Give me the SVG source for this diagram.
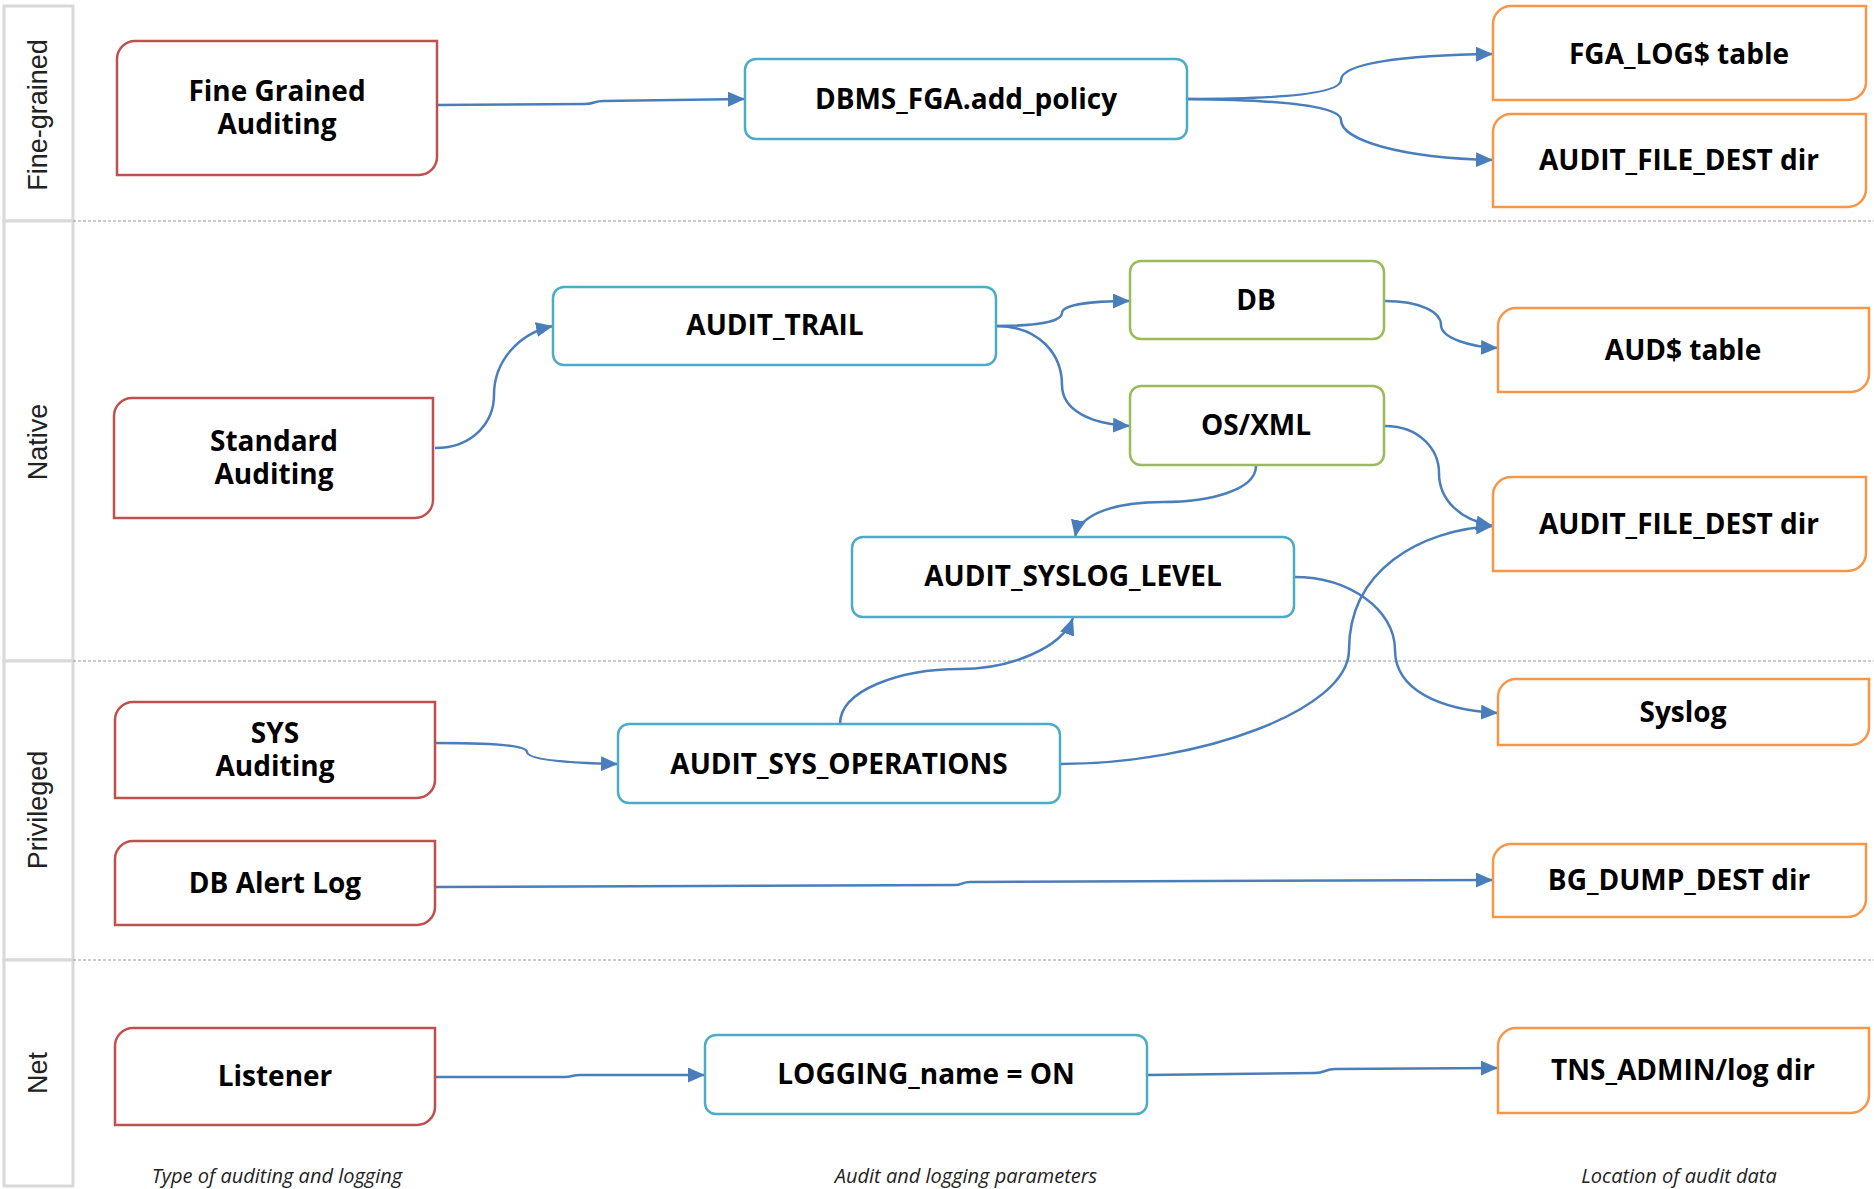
<svg xmlns="http://www.w3.org/2000/svg" width="1874" height="1189" viewBox="0 0 1874 1189">
<style>
.lane{fill:#fff;stroke:#D9D9D9;stroke-width:3}
.sep{stroke:#999;stroke-width:1.2;stroke-dasharray:3 2;fill:none}
.lbl{font-family:"Liberation Sans",Arial,sans-serif;font-size:27px;fill:#222;text-anchor:middle}
.t{font-family:"Open Sans","Liberation Sans",sans-serif;font-weight:700;font-size:28px;fill:#000;text-anchor:middle}
.foot{font-family:"Open Sans","Liberation Sans",sans-serif;font-style:italic;font-size:20px;fill:#222;text-anchor:middle}
.red{fill:#fff;stroke:#C0504D;stroke-width:2.5}
.org{fill:#fff;stroke:#F79646;stroke-width:2.5}
.teal{fill:#fff;stroke:#4BACC6;stroke-width:2.5}
.grn{fill:#fff;stroke:#9BBB59;stroke-width:2.5}
.c{fill:none;stroke:#4A7EBB;stroke-width:2.5;marker-end:url(#ah)}
</style>
<defs>
<marker id="ah" markerUnits="userSpaceOnUse" markerWidth="17" markerHeight="15" refX="17" refY="7.5" orient="auto">
<path d="M0,0 L17,7.5 L0,15 z" fill="#4A7EBB"/>
</marker>
</defs>
<rect width="1874" height="1189" fill="#fff"/>
<g id="lanes">
<rect class="lane" x="4" y="6" width="69" height="215"/>
<rect class="lane" x="4" y="221" width="69" height="440"/>
<rect class="lane" x="4" y="661" width="69" height="299"/>
<rect class="lane" x="4" y="960" width="69" height="226"/>
<line class="sep" x1="73" y1="221" x2="1874" y2="221"/>
<line class="sep" x1="73" y1="661" x2="1874" y2="661"/>
<line class="sep" x1="73" y1="960" x2="1874" y2="960"/>
<text class="lbl" transform="translate(47,115) rotate(-90)">Fine-grained</text>
<text class="lbl" transform="translate(47,442) rotate(-90)">Native</text>
<text class="lbl" transform="translate(47,810) rotate(-90)">Privileged</text>
<text class="lbl" transform="translate(47,1073) rotate(-90)">Net</text>
</g>
<g id="connectors">
<path class="c" d="M437,105 L585,104 C594,104 594,101 603,101 L745,99"/>
<path class="c" d="M1187,99 C1295,99 1341,92 1341,80 C1341,64 1400,55 1493,54"/>
<path class="c" d="M1187,99 C1295,100 1341,108 1341,120 C1341,140 1400,158 1493,160"/>
<path class="c" d="M435,448 C475,448 494,420 494,395 C494,360 520,333 553,326"/>
<path class="c" d="M996,326 C1040,326 1062,321 1062,313 C1062,305 1090,301 1130,301"/>
<path class="c" d="M996,326 C1040,326 1062,355 1062,385 C1062,410 1090,424 1130,426"/>
<path class="c" d="M1385,301 C1420,301 1441,312 1441,325 C1441,338 1470,347 1498,348"/>
<path class="c" d="M1385,426 C1420,426 1439,450 1439,473 C1439,500 1460,520 1493,526"/>
<path class="c" d="M1256,466 C1256,490 1210,502 1163,502 C1120,502 1080,512 1075,537"/>
<path class="c" d="M840,724 C840,690 900,669 960,669 C1010,669 1062,648 1073,618"/>
<path class="c" d="M1060,764 C1200,764 1349,710 1349,650 C1349,570 1420,530 1493,526"/>
<path class="c" d="M1294,577 C1350,577 1395,610 1395,650 C1395,690 1440,710 1498,713"/>
<path class="c" d="M435,743 C490,743 527,745 527,752 C527,760 570,763 618,764"/>
<path class="c" d="M435,887 L955,885 C962,885 962,882 970,882 L1493,880"/>
<path class="c" d="M435,1077 L565,1077 C572,1077 572,1075 580,1075 L705,1075"/>
<path class="c" d="M1147,1075 L1315,1073 C1325,1073 1325,1069 1335,1069 L1498,1068"/>
</g>
<g id="n-fga">
<path class="red" d="M135,41 H437 V157 A18,18 0 0 1 419,175 H117 V59 A18,18 0 0 1 135,41 Z"/>
<text class="t" x="277" y="101">Fine Grained<tspan x="277" dy="33">Auditing</tspan></text>
</g>
<g id="n-dbmsfga">
<rect class="teal" x="745" y="59" width="442" height="80" rx="11"/>
<text class="t" x="966" y="109">DBMS_FGA.add_policy</text>
</g>
<g id="n-fgalog">
<path class="org" d="M1511,6 H1866 V82 A18,18 0 0 1 1848,100 H1493 V24 A18,18 0 0 1 1511,6 Z"/>
<text class="t" x="1679" y="64">FGA_LOG$ table</text>
</g>
<g id="n-afd1">
<path class="org" d="M1511,114 H1866 V189 A18,18 0 0 1 1848,207 H1493 V132 A18,18 0 0 1 1511,114 Z"/>
<text class="t" x="1679" y="170">AUDIT_FILE_DEST dir</text>
</g>
<g id="n-audittrail">
<rect class="teal" x="553" y="287" width="443" height="78" rx="11"/>
<text class="t" x="775" y="335">AUDIT_TRAIL</text>
</g>
<g id="n-db">
<rect class="grn" x="1130" y="261" width="254" height="78" rx="11"/>
<text class="t" x="1256" y="310">DB</text>
</g>
<g id="n-osxml">
<rect class="grn" x="1130" y="386" width="254" height="79" rx="11"/>
<text class="t" x="1256" y="435">OS/XML</text>
</g>
<g id="n-aud">
<path class="org" d="M1516,308 H1869 V374 A18,18 0 0 1 1851,392 H1498 V326 A18,18 0 0 1 1516,308 Z"/>
<text class="t" x="1683" y="360">AUD$ table</text>
</g>
<g id="n-std">
<path class="red" d="M132,398 H433 V500 A18,18 0 0 1 415,518 H114 V416 A18,18 0 0 1 132,398 Z"/>
<text class="t" x="274" y="451">Standard<tspan x="274" dy="33">Auditing</tspan></text>
</g>
<g id="n-afd2">
<path class="org" d="M1511,477 H1866 V553 A18,18 0 0 1 1848,571 H1493 V495 A18,18 0 0 1 1511,477 Z"/>
<text class="t" x="1679" y="534">AUDIT_FILE_DEST dir</text>
</g>
<g id="n-syslvl">
<rect class="teal" x="852" y="537" width="442" height="80" rx="11"/>
<text class="t" x="1073" y="586">AUDIT_SYSLOG_LEVEL</text>
</g>
<g id="n-syslog">
<path class="org" d="M1516,679 H1869 V727 A18,18 0 0 1 1851,745 H1498 V697 A18,18 0 0 1 1516,679 Z"/>
<text class="t" x="1683" y="722">Syslog</text>
</g>
<g id="n-sys">
<path class="red" d="M133,702 H435 V780 A18,18 0 0 1 417,798 H115 V720 A18,18 0 0 1 133,702 Z"/>
<text class="t" x="275" y="743">SYS<tspan x="275" dy="33">Auditing</tspan></text>
</g>
<g id="n-sysops">
<rect class="teal" x="618" y="724" width="442" height="79" rx="11"/>
<text class="t" x="839" y="774">AUDIT_SYS_OPERATIONS</text>
</g>
<g id="n-alert">
<path class="red" d="M133,841 H435 V907 A18,18 0 0 1 417,925 H115 V859 A18,18 0 0 1 133,841 Z"/>
<text class="t" x="275" y="893">DB Alert Log</text>
</g>
<g id="n-bgdump">
<path class="org" d="M1511,844 H1866 V899 A18,18 0 0 1 1848,917 H1493 V862 A18,18 0 0 1 1511,844 Z"/>
<text class="t" x="1679" y="890">BG_DUMP_DEST dir</text>
</g>
<g id="n-listener">
<path class="red" d="M133,1028 H435 V1107 A18,18 0 0 1 417,1125 H115 V1046 A18,18 0 0 1 133,1028 Z"/>
<text class="t" x="275" y="1086">Listener</text>
</g>
<g id="n-logging">
<rect class="teal" x="705" y="1035" width="442" height="79" rx="11"/>
<text class="t" x="926" y="1084">LOGGING_name = ON</text>
</g>
<g id="n-tns">
<path class="org" d="M1516,1028 H1869 V1095 A18,18 0 0 1 1851,1113 H1498 V1046 A18,18 0 0 1 1516,1028 Z"/>
<text class="t" x="1683" y="1080">TNS_ADMIN/log dir</text>
</g>
<g id="footer">
<text class="foot" x="277" y="1183">Type of auditing and logging</text>
<text class="foot" x="966" y="1183">Audit and logging parameters</text>
<text class="foot" x="1679" y="1183">Location of audit data</text>
</g>
</svg>
